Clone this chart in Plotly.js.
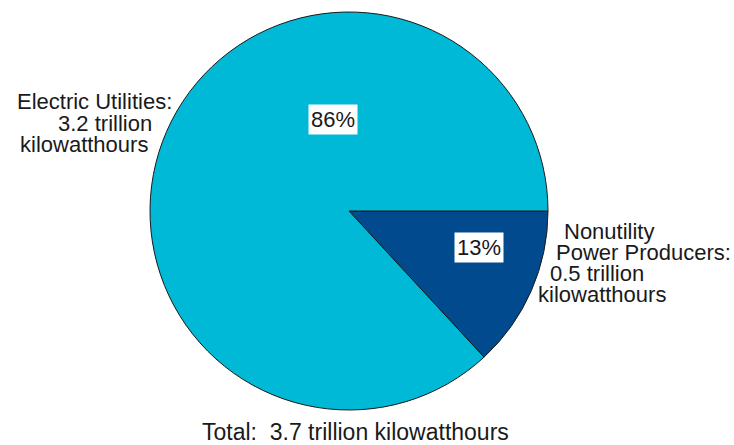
<!DOCTYPE html>
<html>
<head>
<meta charset="utf-8">
<script src="https://cdn.plot.ly/plotly-3.0.1.min.js"></script>
<style>html,body{margin:0;padding:0;background:#fff;}#chart{width:734px;height:445px;}</style>
</head>
<body>
<div id="chart"></div>
<script>
// Data
const categories = ["Nonutility Power Producers", "Electric Utilities"];
const shares = [13, 86];            // percent shown in slices
const percentLabels = ["13%", "86%"];
const amountsTrillionKWh = [0.5, 3.2];
const totalTrillionKWh = 3.7;
const colors = ["#004A8D", "#00B9D6"];

const font = {family: "Liberation Sans, Arial, sans-serif", size: 22, color: "#1a1a1a"};

const trace = {
  type: "pie",
  labels: categories,
  values: shares,
  sort: false,
  direction: "clockwise",
  rotation: 90,
  textinfo: "none",
  hoverinfo: "label+percent",
  marker: {colors: colors, line: {color: "#1a1a1a", width: 1}},
  domain: {x: [150/734, 548/734], y: [35/445, 433/445]},
  showlegend: false
};

function ann(text, x, y, extra) {
  return Object.assign({text: text, x: x/734, y: 1 - y/445, xref: "paper", yref: "paper",
    xanchor: "center", yanchor: "middle", showarrow: false, font: font, borderpad: 0}, extra || {});
}

const annotations = [
  ann(percentLabels[1], 333, 119, {bgcolor: "#ffffff", borderpad: 2}),
  ann(percentLabels[0], 479, 248, {bgcolor: "#ffffff", borderpad: 2}),
  ann("Electric Utilities:", 94, 102),
  ann(amountsTrillionKWh[1].toFixed(1) + " trillion", 105, 123),
  ann("kilowatthours", 84, 144),
  ann("Nonutility", 609, 231),
  ann("Power Producers:", 643, 252),
  ann(amountsTrillionKWh[0].toFixed(1) + " trillion", 597, 273),
  ann("kilowatthours", 602, 294),
  ann("Total:  " + totalTrillionKWh.toFixed(1) + " trillion kilowatthours", 355, 432,
      {font: Object.assign({}, font, {size: 23})})
];

const layout = {
  width: 734, height: 445,
  margin: {l: 0, r: 0, t: 0, b: 0},
  paper_bgcolor: "#ffffff",
  annotations: annotations
};

Plotly.newPlot("chart", [trace], layout, {displayModeBar: false, staticPlot: true});
</script>
</body>
</html>
